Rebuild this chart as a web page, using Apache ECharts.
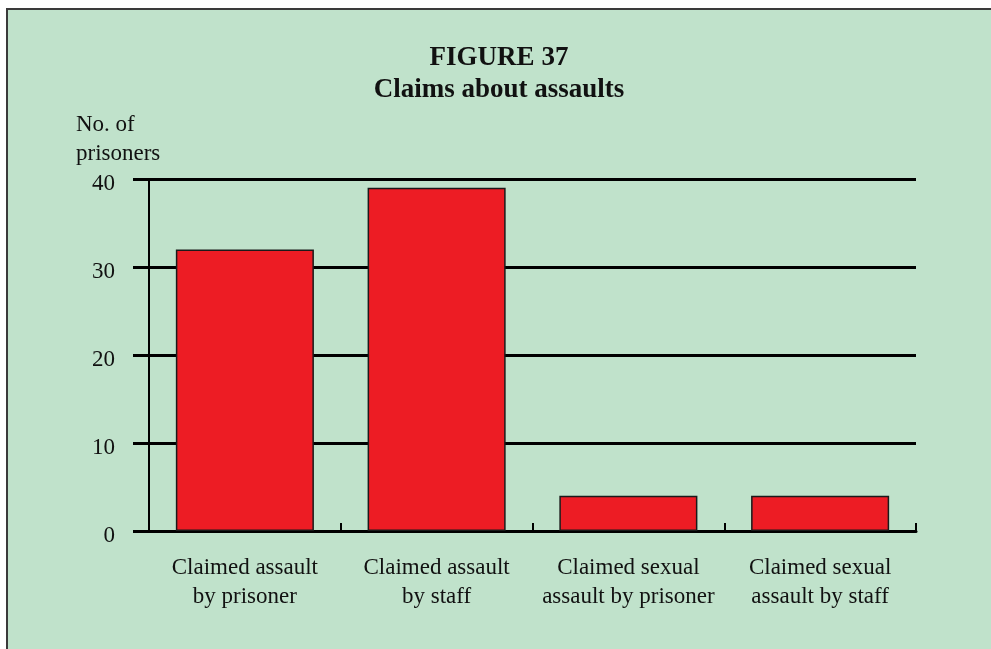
<!DOCTYPE html>
<html>
<head>
<meta charset="utf-8">
<script src="https://cdn.jsdelivr.net/npm/echarts@6/dist/echarts.min.js"></script>
<style>
  html, body { margin: 0; padding: 0; background: #ffffff; }
  #chart { width: 991px; height: 649px; }
</style>
</head>
<body>
<div id="chart"></div>
<script>
// Claims about assaults: number of prisoners per claim type
const categories = [
  'Claimed assault\nby prisoner',
  'Claimed assault\nby staff',
  'Claimed sexual\nassault by prisoner',
  'Claimed sexual\nassault by staff'
];
const prisoners = [32, 39, 4, 4];
const yTicks = { min: 0, max: 40, interval: 10 };

const serif = '"Liberation Serif", "DejaVu Serif", serif';
const chart = echarts.init(document.getElementById('chart'), null, { renderer: 'canvas' });

chart.setOption({
  backgroundColor: '#ffffff',
  animation: false,
  graphic: [
    {
      // green panel with dark frame
      type: 'rect',
      z: -10,
      shape: { x: 7, y: 9, width: 1000, height: 660 },
      style: { fill: '#c0e2cb', stroke: '#3a3a3a', lineWidth: 2 }
    },
    {
      type: 'text',
      x: 499,
      y: 42,
      style: {
        text: 'FIGURE 37\nClaims about assaults',
        font: 'bold 27px ' + serif,
        fill: '#111111',
        lineHeight: 32,
        align: 'center'
      }
    },
    {
      type: 'text',
      x: 76,
      y: 110,
      style: {
        text: 'No. of\nprisoners',
        font: '23px ' + serif,
        fill: '#111111',
        lineHeight: 29
      }
    }
  ],
  grid: { left: 149, right: 75, top: 179, bottom: 118, containLabel: false },
  xAxis: {
    type: 'category',
    data: categories,
    axisLine: { show: true, lineStyle: { color: '#000000', width: 3 } },
    axisTick: { show: true, inside: true, length: 8, lineStyle: { color: '#000000', width: 2 } },
    axisLabel: {
      fontFamily: serif,
      fontSize: 23,
      lineHeight: 29,
      color: '#111111',
      margin: 22,
      interval: 0
    },
    splitLine: { show: false }
  },
  yAxis: {
    type: 'value',
    min: yTicks.min,
    max: yTicks.max,
    interval: yTicks.interval,
    axisLine: { show: true, lineStyle: { color: '#000000', width: 2 } },
    axisTick: { show: true, length: 16, lineStyle: { color: '#000000', width: 3 } },
    axisLabel: {
      color: '#111111',
      margin: 34,
      formatter: '{v|{value}}',
      rich: {
        v: {
          fontFamily: serif,
          fontSize: 23,
          color: '#111111',
          padding: [10, 0, 0, 0]
        }
      }
    },
    splitLine: { show: true, lineStyle: { color: '#000000', width: 3 } }
  },
  series: [{
    type: 'bar',
    data: prisoners,
    barWidth: '72%',
    itemStyle: { color: '#ed1c24', borderColor: '#1a1a1a', borderWidth: 1.5 },
    z: 3
  }]
});
</script>
</body>
</html>
